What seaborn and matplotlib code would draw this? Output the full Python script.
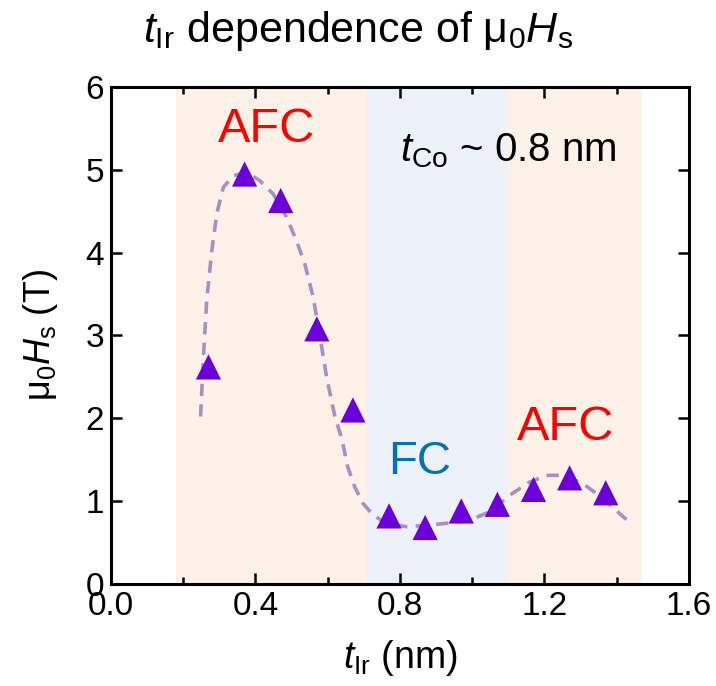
import matplotlib
matplotlib.use("Agg")
import matplotlib.pyplot as plt
from matplotlib.ticker import MultipleLocator, FormatStrFormatter
import seaborn as sns
import pandas as pd

# Measured saturation field vs Ir spacer thickness
t_ir = [0.27, 0.37, 0.47, 0.57, 0.67, 0.77, 0.87, 0.97, 1.07, 1.17, 1.27, 1.37]
mu0_hs = [2.62, 4.95, 4.63, 3.08, 2.10, 0.82, 0.68, 0.88, 0.96, 1.14, 1.28, 1.10]

# Guide-to-the-eye curve
fit_x = [0.248, 0.256, 0.265, 0.279, 0.293, 0.311, 0.339, 0.376, 0.412, 0.449,
         0.486, 0.514, 0.537, 0.560, 0.579, 0.597, 0.620, 0.640, 0.655, 0.675,
         0.698, 0.726, 0.763, 0.818, 0.883, 0.948, 0.994, 1.049, 1.104, 1.160,
         1.206, 1.252, 1.307, 1.363, 1.418, 1.445]
fit_y = [2.02, 2.74, 3.42, 4.02, 4.47, 4.79, 4.93, 4.97, 4.87, 4.71,
         4.43, 4.14, 3.86, 3.46, 2.98, 2.50, 2.02, 1.74, 1.42, 1.17,
         0.97, 0.83, 0.73, 0.69, 0.71, 0.74, 0.77, 0.87, 1.07, 1.23,
         1.31, 1.31, 1.21, 1.03, 0.81, 0.72]

# Coupling regimes: (start, end, colour)
regions_start = [0.18, 0.71, 1.10]
regions_end = [0.71, 1.10, 1.47]
regions_color = ["#fdf2e7", "#edf2fa", "#fdf2e7"]

sns.set_theme(style="ticks")
base = "Liberation Sans"
plt.rcParams["font.family"] = [base, "DejaVu Sans"]
plt.rcParams["mathtext.fontset"] = "custom"
plt.rcParams["mathtext.rm"] = base
plt.rcParams["mathtext.it"] = base + ":italic"
plt.rcParams["text.color"] = "black"
plt.rcParams["axes.labelcolor"] = "black"
plt.rcParams["xtick.color"] = "black"
plt.rcParams["ytick.color"] = "black"
plt.rcParams["axes.edgecolor"] = "black"

fig = plt.figure(figsize=(7.16, 6.86), dpi=100)
ax = fig.add_axes([0.155, 0.149, 0.807, 0.724])

for s, e, c in zip(regions_start, regions_end, regions_color):
    ax.axvspan(s, e, color=c, lw=0, zorder=0)

fit_df = pd.DataFrame({"x": fit_x, "y": fit_y})
sns.lineplot(data=fit_df, x="x", y="y", sort=False, ax=ax, color="#a98fc5",
             lw=2.6, linestyle=(0, (3.4, 2.3)), zorder=2)

pts = pd.DataFrame({"t": t_ir, "h": mu0_hs})
sns.scatterplot(data=pts, x="t", y="h", ax=ax, marker="^", s=330,
                color="#6c00d9", edgecolor="none", zorder=3)

ax.set_xlim(0, 1.6)
ax.set_ylim(0, 6)
ax.xaxis.set_major_locator(MultipleLocator(0.4))
ax.xaxis.set_minor_locator(MultipleLocator(0.2))
ax.yaxis.set_major_locator(MultipleLocator(1))
ax.xaxis.set_major_formatter(FormatStrFormatter("%.1f"))
ax.tick_params(which="both", direction="in", width=1.8, labelsize=24, pad=5)
ax.tick_params(which="major", length=8)
ax.tick_params(which="minor", length=5)
ax.tick_params(axis="x", top=True, which="both")
ax.tick_params(axis="y", right=True)
for sp in ax.spines.values():
    sp.set_linewidth(2.2)
    sp.set_visible(True)

ax.set_xlabel(r"$t_{\mathrm{Ir}}$ (nm)", fontsize=27, labelpad=12)
ax.set_ylabel(r"μ$_0$$H_{\mathrm{s}}$ (T)", fontsize=26, labelpad=18)
fig.text(0.5, 0.939, r"$t_{\mathrm{Ir}}$ dependence of μ$_0$$H_{\mathrm{s}}$",
         fontsize=31, ha="center", va="baseline")

ax.text(0.432, 5.49, "AFC", color="#ff0000", fontsize=35, ha="center", va="center")
ax.text(1.26, 1.89, "AFC", color="#ff0000", fontsize=35, ha="center", va="center")
ax.text(0.855, 1.47, "FC", color="#0070c0", fontsize=34, ha="center", va="center")
ax.text(0.80, 5.23, r"$t_{\mathrm{Co}}$ ~ 0.8 nm", fontsize=29,
        ha="left", va="center")

fig.savefig("out.png", dpi=100)
